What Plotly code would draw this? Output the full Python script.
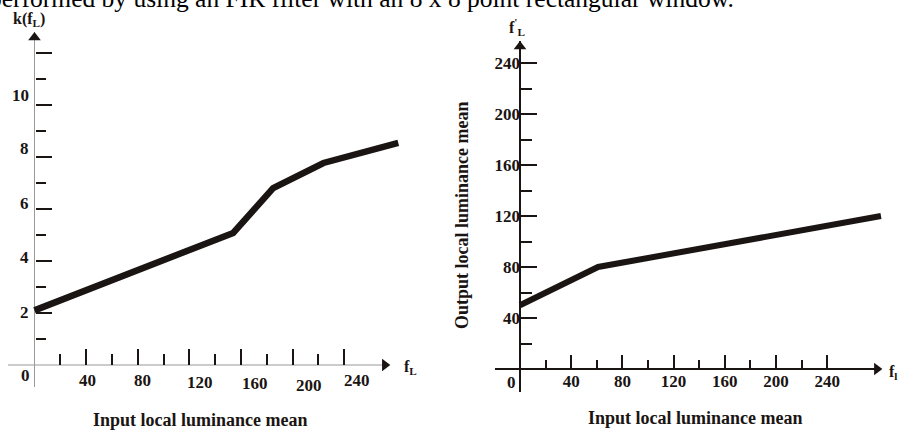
import plotly.graph_objects as go

W, H = 898, 432

# ---- data ----
left_x = [0, 154, 185, 224, 282]
left_y = [2.1, 5.08, 6.8, 7.77, 8.54]
right_x = [0, 61, 282]
right_y = [50, 80, 120]

left_xticks = [40, 80, 120, 160, 200, 240]
left_xminor = [20, 60, 100, 140, 180, 220]
left_yticks = [2, 4, 6, 8, 10, 12]
left_yminor = [1, 3, 5, 7, 9, 11]
left_ylabels = ["2", "4", "6", "8", "10"]
right_xticks = [40, 80, 120, 160, 200, 240]
right_xminor = [20, 60, 100, 140, 180, 220]
right_yticks = [40, 80, 120, 160, 200, 240]
right_yminor = [20, 60, 100, 140, 180, 220]

FONT = "Liberation Serif"
INK = "#1a1513"

# pixel helpers (layout only)
def px(x):
    return x / W

def py(y):
    return 1 - y / H

# left plot geometry
L_x0, L_sx = 34.5, 1.29
L_y0, L_sy = 365, 26.0
L_dom = (8, 406)
L_xr = [(L_dom[0] - L_x0) / L_sx, (L_dom[1] - L_x0) / L_sx]
L_tip = (390 - L_x0) / L_sx
L_yr = [(L_y0 - 387) / L_sy, (L_y0 - 32) / L_sy]
# right plot geometry
R_x0, R_sx = 520, 1.28
R_y0, R_sy = 369, 1.275
R_dom = (495, 894)
R_xr = [(R_dom[0] - R_x0) / R_sx, (R_dom[1] - R_x0) / R_sx]
R_tip = (882 - R_x0) / R_sx
R_yr = [(R_y0 - 392) / R_sy, (R_y0 - 41) / R_sy]

fig = go.Figure()

# horizontal axis lines (decoration)
fig.add_trace(go.Scatter(x=[L_xr[0], L_tip - 3], y=[0, 0], mode="lines", xaxis="x", yaxis="y",
                         line=dict(color="#9a9a9a", width=1.2), hoverinfo="skip"))
fig.add_trace(go.Scatter(x=[R_xr[0], R_tip - 3], y=[0, 0], mode="lines", xaxis="x2", yaxis="y2",
                         line=dict(color=INK, width=2.2), hoverinfo="skip"))

fig.add_trace(go.Scatter(x=left_x, y=left_y, mode="lines", xaxis="x", yaxis="y",
                         line=dict(color=INK, width=6.5), hoverinfo="skip"))
fig.add_trace(go.Scatter(x=right_x, y=right_y, mode="lines", xaxis="x2", yaxis="y2",
                         line=dict(color=INK, width=6), hoverinfo="skip"))

# arrow heads (tips at the axis ends)
fig.add_trace(go.Scatter(x=[0], y=[L_yr[1] - 5.5 / L_sy], mode="markers", xaxis="x", yaxis="y",
                         marker=dict(symbol="triangle-up", size=11, color=INK),
                         cliponaxis=False, hoverinfo="skip"))
fig.add_trace(go.Scatter(x=[L_tip - 4], y=[0], mode="markers", xaxis="x", yaxis="y",
                         marker=dict(symbol="triangle-right", size=11, color=INK),
                         cliponaxis=False, hoverinfo="skip"))
fig.add_trace(go.Scatter(x=[0], y=[R_yr[1] - 5.5 / R_sy], mode="markers", xaxis="x2", yaxis="y2",
                         marker=dict(symbol="triangle-up", size=11, color=INK),
                         cliponaxis=False, hoverinfo="skip"))
fig.add_trace(go.Scatter(x=[R_tip - 4], y=[0], mode="markers", xaxis="x2", yaxis="y2",
                         marker=dict(symbol="triangle-right", size=11, color=INK),
                         cliponaxis=False, hoverinfo="skip"))

tickfont = dict(family=FONT, size=17, color=INK, weight="bold")

common = dict(showgrid=False, showline=False, fixedrange=True)

fig.update_layout(
    width=W, height=H, margin=dict(l=0, r=0, t=0, b=0, autoexpand=False),
    paper_bgcolor="white", plot_bgcolor="rgba(0,0,0,0)",
    showlegend=False,
    xaxis=dict(domain=[px(L_dom[0]), px(L_dom[1])], range=L_xr, anchor="free", position=py(L_y0),
               zeroline=True, zerolinecolor="#9a9a9a", zerolinewidth=1.2,
               tickmode="array", tickvals=left_xticks, ticks="inside", ticklen=16,
               tickwidth=2, tickcolor=INK, showticklabels=False,
               minor=dict(tickmode="array", tickvals=left_xminor, ticks="inside",
                          ticklen=11, tickwidth=2, tickcolor=INK),
               **common),
    yaxis=dict(domain=[py(387), py(32)], range=L_yr, anchor="free", position=px(L_x0),
               zeroline=False,
               tickmode="array", tickvals=left_yticks, ticks="inside", ticklen=16,
               tickwidth=2, tickcolor=INK, showticklabels=False,
               minor=dict(tickmode="array", tickvals=left_yminor, ticks="inside",
                          ticklen=10, tickwidth=2, tickcolor=INK),
               **common),
    xaxis2=dict(domain=[px(R_dom[0]), px(R_dom[1])], range=R_xr, anchor="free", position=py(R_y0),
                zeroline=True, zerolinecolor=INK, zerolinewidth=2.2,
                tickmode="array", tickvals=right_xticks, ticks="inside", ticklen=14,
                tickwidth=2, tickcolor=INK, showticklabels=True, tickfont=tickfont,
                minor=dict(tickmode="array", tickvals=right_xminor, ticks="inside",
                           ticklen=9, tickwidth=2, tickcolor=INK),
                **common),
    yaxis2=dict(domain=[py(392), py(41)], range=R_yr, anchor="free", position=px(R_x0),
                zeroline=False,
                tickmode="array", tickvals=right_yticks, ticks="inside", ticklen=16,
                tickwidth=2, tickcolor=INK, showticklabels=True, tickfont=tickfont,
                minor=dict(tickmode="array", tickvals=right_yminor, ticks="inside",
                           ticklen=11, tickwidth=2, tickcolor=INK),
                **common),
)

ann = []
C = dict(xanchor="center", yanchor="middle", showarrow=False)
# left x tick labels (slightly offset as in the scan)
lx_shift = [1, 5, 11, 14, 16, 13]
ly_shift = [-15, -15, -17, -18, -20, -15]
for v, dx, dy in zip(left_xticks, lx_shift, ly_shift):
    ann.append(dict(x=v, y=0, xref="x", yref="y", text=str(v),
                    xshift=dx, yshift=dy, font=tickfont, **C))
# left y tick labels
yl_shift = [1, 4, 6, 9, 10]
for lab, dy in zip(left_ylabels, yl_shift):
    ann.append(dict(x=0, y=float(lab), xref="x", yref="y", text=lab, showarrow=False,
                    xanchor="right", yanchor="middle", xshift=-4, yshift=dy, font=tickfont))
# zeros
ann.append(dict(x=0, y=0, xref="x", yref="y", text="0", showarrow=False,
                xanchor="right", yanchor="middle", xshift=-3, yshift=-10, font=tickfont))
ann.append(dict(x=0, y=0, xref="x2", yref="y2", text="0", showarrow=False,
                xanchor="right", yanchor="middle", xshift=-2, yshift=-13, font=tickfont))

lab = dict(family=FONT, size=16, color=INK, weight="bold")
big = dict(family=FONT, size=18, color=INK, weight="bold")
ann += [
    dict(x=px(29), y=py(19), xref="paper", yref="paper", text="k(f<sub>L</sub>)", font=lab, **C),
    dict(x=px(402), y=py(367), xref="paper", yref="paper", showarrow=False,
         xanchor="left", yanchor="middle", text="f<sub>L</sub>", font=lab),
    dict(x=px(887), y=py(372), xref="paper", yref="paper", showarrow=False,
         xanchor="left", yanchor="middle", text="f<sub>l</sub>", font=lab),
    dict(x=px(517), y=py(27), xref="paper", yref="paper",
         text="f<sup>'</sup><sub>L</sub>", font=lab, **C),
    dict(x=px(200), y=py(420), xref="paper", yref="paper",
         text="Input local luminance mean", font=big, **C),
    dict(x=px(695), y=py(418), xref="paper", yref="paper",
         text="Input local luminance mean", font=big, **C),
    dict(x=px(462), y=py(215), xref="paper", yref="paper", textangle=-90,
         text="Output local luminance mean", font=big, **C),
    dict(x=px(-13), y=py(15), xref="paper", yref="paper", showarrow=False,
         xanchor="left", yanchor="bottom",
         text="performed by using an FIR filter with an 8 x 8 point rectangular window.",
         font=dict(family=FONT, size=25.5, color="black")),
]
fig.update_layout(annotations=ann)

fig.write_html("out.html", config={"displayModeBar": False},
               post_script="document.body.style.margin='0';")
